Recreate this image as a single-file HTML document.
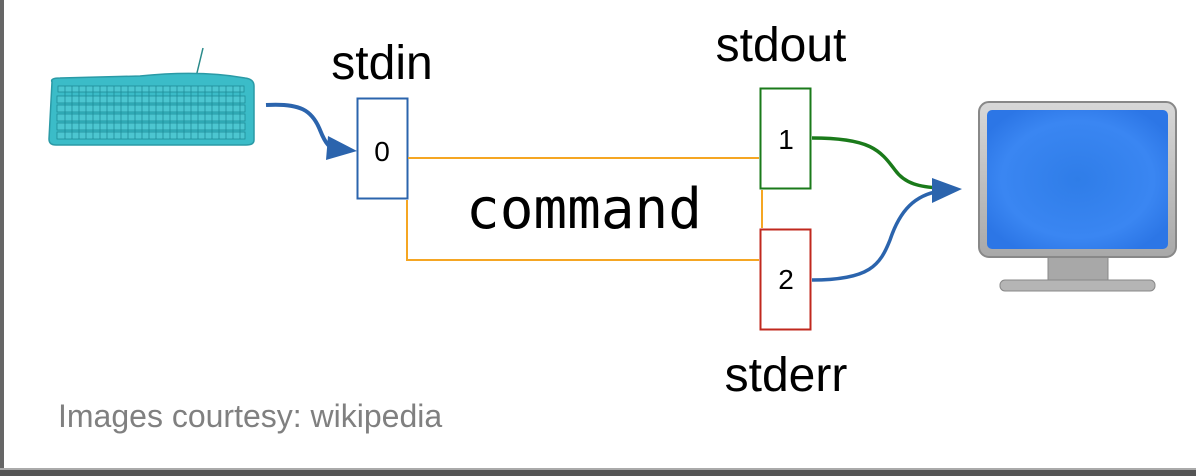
<!DOCTYPE html>
<html><head><style>
html,body{margin:0;padding:0;background:#fff;}
body{width:1196px;height:476px;overflow:hidden;position:relative;font-family:"Liberation Sans",sans-serif;}
</style></head><body>
<svg width="1196" height="476" viewBox="0 0 1196 476" xmlns="http://www.w3.org/2000/svg" style="position:absolute;left:0;top:0">
<defs>
<radialGradient id="scr" cx="50%" cy="50%" r="60%"><stop offset="0" stop-color="#2f7de8"/><stop offset="0.7" stop-color="#3a86f2"/><stop offset="1" stop-color="#2c76e6"/></radialGradient>
<linearGradient id="frm" x1="0" y1="0" x2="0" y2="1"><stop offset="0" stop-color="#d8d8d8"/><stop offset="1" stop-color="#a8a8a8"/></linearGradient>
</defs>
<rect x="0" y="0" width="4" height="476" fill="#666"/>
<rect x="0" y="470" width="1196" height="6" fill="#555"/>
<rect x="0" y="468" width="1196" height="2" fill="#aaa"/>
<!-- keyboard -->
<line x1="196" y1="77" x2="203" y2="48" stroke="#2a8a8a" stroke-width="1.5"/>
<path d="M52 82 Q50 78 60 78 L140 76 Q200 70 245 78 Q254 79 254 86 L254 140 Q254 145 246 145 L56 145 Q49 145 49 139 Z" fill="#3bbcc8" stroke="#2a9aa6" stroke-width="1.5"/>
<g fill="#4cc6d0" stroke="#1f8c98" stroke-width="0.8">
<rect x="58" y="86" width="186" height="6"/>
<rect x="57" y="96" width="188" height="7"/>
<rect x="57" y="105" width="188" height="7"/>
<rect x="57" y="114" width="188" height="7"/>
<rect x="57" y="123" width="188" height="7"/>
<rect x="57" y="132" width="188" height="7"/>
</g>
<g stroke="#1f8c98" stroke-width="0.8">
<path d="M65 86V139M72 86V139M79 86V139M86 86V139M93 86V139M100 86V139M107 86V139M114 86V139M121 86V139M128 86V139M135 86V139M142 86V139M149 86V139M156 86V139M163 86V139M170 86V139M177 86V139M184 86V139M191 86V139M198 86V139M205 86V139M212 86V139M219 86V139M226 86V139M233 86V139M240 86V139"/>
</g>
<!-- boxes -->
<rect x="357.5" y="98.5" width="50" height="100" fill="#fff" stroke="#2b64ad" stroke-width="2"/>
<rect x="760.5" y="88.5" width="50" height="100" fill="#fff" stroke="#1a7a1a" stroke-width="2"/>
<rect x="760.5" y="229.5" width="50" height="100" fill="#fff" stroke="#c0281e" stroke-width="2"/>
<!-- orange -->
<g stroke="#f5a623" stroke-width="2" fill="none">
<path d="M408 158 H759"/>
<path d="M407 200 V260 H759"/>
<path d="M762 190 V228"/>
</g>
<!-- arrows -->
<path d="M266 105 C300 103 312 110 320 130 C326 145 330 148 336 149" stroke="#2b64ad" stroke-width="4" fill="none"/>
<polygon points="357,151 328,136 326,160" fill="#2b64ad"/>
<path d="M812 138 C870 138 880 150 895 170 C905 184 920 187 940 188" stroke="#1a7a1a" stroke-width="3.5" fill="none"/>
<path d="M812 280 C870 280 880 265 890 240 C900 210 915 195 940 191" stroke="#2b64ad" stroke-width="3.5" fill="none"/>
<polygon points="962,189 932,178 932,203" fill="#2b64ad"/>
<!-- monitor -->
<rect x="1048" y="256" width="60" height="24" fill="#a8a8a8" stroke="#888"/>
<rect x="1000" y="280" width="155" height="11" rx="5" fill="#b5b5b5" stroke="#888"/>
<rect x="979" y="102" width="197" height="155" rx="10" fill="url(#frm)" stroke="#888" stroke-width="2"/>
<rect x="987" y="110" width="181" height="139" rx="5" fill="url(#scr)"/>
<!-- text -->
<g font-family="Liberation Sans, sans-serif" fill="#000" text-anchor="middle">
<text x="382" y="79" font-size="48">stdin</text>
<text x="781" y="61" font-size="48">stdout</text>
<text x="786" y="391" font-size="48">stderr</text>
<text x="382" y="161" font-size="28">0</text>
<text x="786" y="149" font-size="28">1</text>
<text x="786" y="289" font-size="28">2</text>
</g>
<text x="584" y="228" font-family="DejaVu Sans Mono, Liberation Mono, monospace" font-size="56" text-anchor="middle" fill="#000">command</text>
<text x="58" y="427" font-family="Liberation Sans, sans-serif" font-size="32" fill="#808080">Images courtesy: wikipedia</text>
</svg>
</body></html>
